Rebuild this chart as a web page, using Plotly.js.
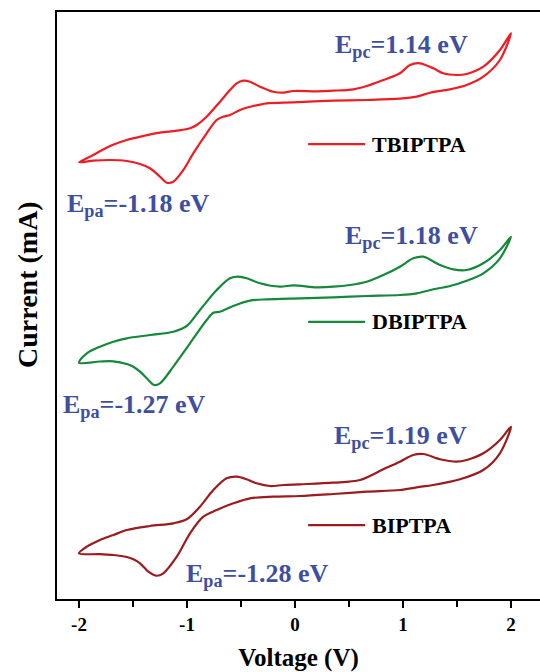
<!DOCTYPE html>
<html>
<head>
<meta charset="utf-8">
<script src="https://cdn.plot.ly/plotly-3.0.1.min.js"></script>
<style>html,body{margin:0;padding:0;background:#fff;overflow:hidden}#chart{width:540px;height:672px}</style>
</head>
<body>
<div id="chart"></div>
<script>
// Cyclic voltammograms (current in arbitrary mA units, curves offset vertically)
// Each loop: forward (lower) branch from -2 V to +2 V, then reverse (upper) branch back to -2 V
const tbiptpaV = [-2.00,-1.868,-1.713,-1.558,-1.435,-1.343,-1.250,-1.188,-1.127,-1.034,-0.942,-0.818,-0.725,-0.664,-0.602,-0.509,-0.386,-0.262,-0.016,0.352,0.664,0.972,1.127,1.250,1.435,1.590,1.744,1.898,2.00,
  1.898,1.744,1.590,1.497,1.373,1.281,1.157,1.065,0.972,0.818,0.664,0.540,0.355,0.201,-0.016,-0.108,-0.201,-0.324,-0.417,-0.478,-0.540,-0.602,-0.694,-0.818,-0.910,-0.972,-1.095,-1.250,-1.405,-1.558,-1.713,-1.868,-2.00];
const tbiptpaI = [4.377,4.393,4.400,4.390,4.360,4.317,4.233,4.173,4.183,4.300,4.467,4.667,4.800,4.833,4.850,4.900,4.940,4.967,4.977,4.993,5.000,5.013,5.033,5.073,5.107,5.150,5.233,5.400,5.667,
  5.500,5.333,5.260,5.250,5.267,5.317,5.367,5.350,5.267,5.200,5.140,5.107,5.093,5.087,5.090,5.073,5.083,5.133,5.183,5.193,5.167,5.100,4.983,4.833,4.750,4.717,4.693,4.673,4.640,4.600,4.540,4.450,4.377];

const dbiptpaV = [-2.00,-1.806,-1.682,-1.558,-1.497,-1.435,-1.358,-1.306,-1.250,-1.127,-0.972,-0.818,-0.756,-0.694,-0.571,-0.417,-0.262,0.046,0.355,0.664,0.972,1.127,1.281,1.435,1.590,1.744,1.898,2.00,
  1.898,1.744,1.590,1.466,1.343,1.188,1.095,0.972,0.818,0.664,0.509,0.355,0.201,-0.016,-0.139,-0.324,-0.447,-0.525,-0.602,-0.725,-0.880,-1.003,-1.127,-1.343,-1.558,-1.682,-1.806,-1.928,-2.00];
const dbiptpaI = [2.373,2.385,2.387,2.360,2.333,2.283,2.200,2.150,2.167,2.333,2.567,2.800,2.873,2.883,2.940,2.993,3.007,3.017,3.027,3.040,3.050,3.067,3.107,3.140,3.193,3.267,3.417,3.633,
  3.500,3.367,3.300,3.307,3.350,3.433,3.417,3.333,3.250,3.183,3.150,3.133,3.127,3.147,3.133,3.167,3.217,3.233,3.217,3.100,2.900,2.740,2.683,2.650,2.617,2.583,2.533,2.467,2.373];

const biptpaV = [-2.00,-1.806,-1.682,-1.558,-1.497,-1.435,-1.358,-1.287,-1.219,-1.095,-0.972,-0.849,-0.725,-0.571,-0.417,-0.201,0.046,0.355,0.664,0.972,1.127,1.281,1.528,1.744,1.898,2.00,
  1.898,1.744,1.590,1.497,1.343,1.188,1.095,0.972,0.818,0.602,0.355,0.046,-0.108,-0.231,-0.355,-0.447,-0.540,-0.633,-0.756,-0.880,-1.003,-1.127,-1.343,-1.558,-1.682,-1.806,-1.928,-2.00];
const biptpaI = [0.467,0.458,0.450,0.430,0.407,0.367,0.283,0.243,0.267,0.433,0.667,0.833,0.900,0.967,1.017,1.033,1.040,1.060,1.083,1.100,1.127,1.150,1.207,1.300,1.467,1.733,
  1.600,1.467,1.400,1.383,1.407,1.460,1.450,1.383,1.307,1.200,1.173,1.157,1.150,1.140,1.167,1.207,1.233,1.217,1.100,0.933,0.807,0.767,0.740,0.700,0.650,0.600,0.533,0.467];

const seriesNames = ['TBIPTPA','DBIPTPA','BIPTPA'];
const seriesColors = ['#EE1D23','#15893A','#9B1B1F'];
const xTicks = [-2,-1,0,1,2];
const peakLabels = ['E<sub>pc</sub>=1.14 eV','E<sub>pa</sub>=-1.18 eV','E<sub>pc</sub>=1.18 eV','E<sub>pa</sub>=-1.27 eV','E<sub>pc</sub>=1.19 eV','E<sub>pa</sub>=-1.28 eV'];
const peakX = [0.35, -2.13, 0.44, -2.17, 0.34, -1.03];
const peakY = [5.54, 3.95, 3.63, 1.94, 1.63, 0.25];

const serif = 'Liberation Serif, Times New Roman, serif';
const xs = [tbiptpaV, dbiptpaV, biptpaV];
const ys = [tbiptpaI, dbiptpaI, biptpaI];

const traces = seriesNames.map((n,i)=>({
  x: xs[i], y: ys[i], name: n, type: 'scatter', mode: 'lines',
  line: {color: seriesColors[i], width: 2.2, shape: 'spline', smoothing: 0.9},
  showlegend: false, hoverinfo: 'skip'
}));

const annotations = peakLabels.map((t,i)=>({
  text: t, x: peakX[i], y: peakY[i], xref: 'x', yref: 'y',
  xanchor: 'left', yanchor: 'middle', showarrow: false,
  font: {family: serif, size: 26, color: '#3E4FA1', weight: 'bold'}
}));

const legendY = [0.775, 0.472, 0.126];
const shapes = [];
seriesNames.forEach((n,i)=>{
  shapes.push({type:'line', xref:'paper', yref:'paper', x0:0.52, x1:0.638, y0:legendY[i], y1:legendY[i],
    line:{color:seriesColors[i], width:2.2}});
  annotations.push({text:n, xref:'paper', yref:'paper', x:0.648, y:legendY[i], xanchor:'left', yanchor:'middle',
    showarrow:false, font:{family:serif, size:22, color:'#000', weight:'bold'}});
});

// y-axis title placed as a rotated annotation (sits a little above the plot centre, as in the reference)
annotations.push({text:'Current (mA)', xref:'paper', yref:'paper', x:-0.06, y:0.535, xanchor:'center', yanchor:'middle',
  textangle:-90, showarrow:false, font:{family:serif, size:28, color:'#000', weight:'bold'}});

const layout = {
  width: 540, height: 672,
  margin: {l: 57, r: 0, t: 12, b: 73},
  paper_bgcolor: '#fff', plot_bgcolor: '#fff',
  showlegend: false,
  xaxis: {
    range: [-2.204, 2.269], tickvals: xTicks, ticktext: xTicks.map(String),
    ticks: 'outside', ticklen: 7, tickwidth: 2, tickcolor: '#000',
    minor: {dtick: 0.5, tick0: -2, ticks: 'outside', ticklen: 6, tickwidth: 2, tickcolor: '#000'},
    showline: true, linewidth: 2, linecolor: '#000', mirror: true,
    showgrid: false, zeroline: false,
    tickfont: {family: serif, size: 19, color: '#000', weight: 'bold'},
    title: {text: 'Voltage (V)', font: {family: serif, size: 25, color: '#000', weight: 'bold'}, standoff: 20}
  },
  yaxis: {
    range: [0.01, 5.88], showticklabels: false, ticks: '',
    showline: true, linewidth: 2, linecolor: '#000', mirror: false,
    showgrid: false, zeroline: false
  },
  shapes: shapes,
  annotations: annotations
};

Plotly.newPlot('chart', traces, layout, {displayModeBar: false, staticPlot: true});
</script>
</body>
</html>
